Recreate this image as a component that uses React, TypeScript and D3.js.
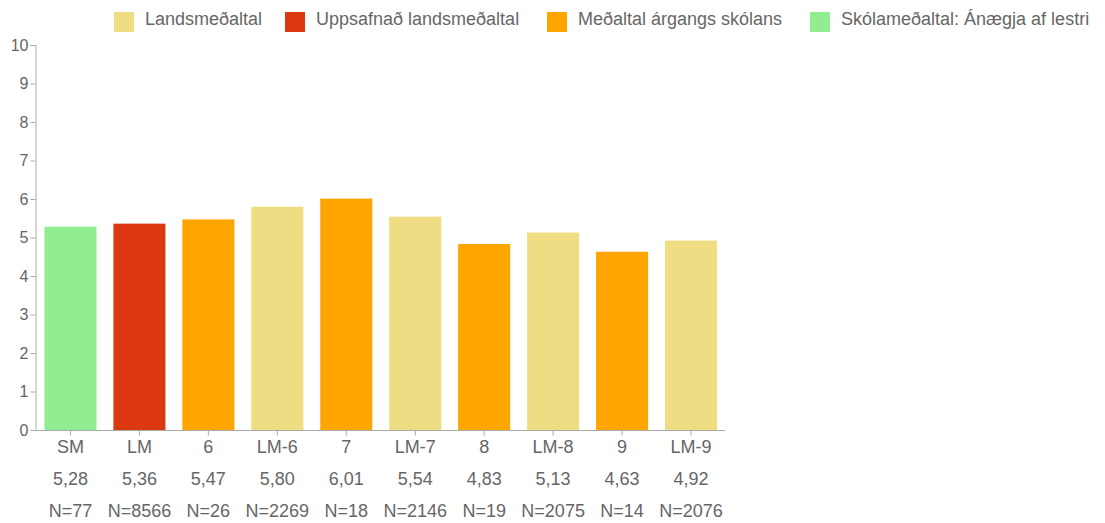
import { useEffect, useRef } from 'react';
import * as d3 from 'd3';

const categories = ['SM', 'LM', '6', 'LM-6', '7', 'LM-7', '8', 'LM-8', '9', 'LM-9'];
const values = [5.28, 5.36, 5.47, 5.80, 6.01, 5.54, 4.83, 5.13, 4.63, 4.92];
const counts = [77, 8566, 26, 2269, 18, 2146, 19, 2075, 14, 2076];
const barSeries = ['school', 'cumulative', 'grade', 'national', 'grade', 'national', 'grade', 'national', 'grade', 'national'];

const legendKeys = ['national', 'cumulative', 'grade', 'school'];
const legendLabels = ['Landsmeðaltal', 'Uppsafnað landsmeðaltal', 'Meðaltal árgangs skólans', 'Skólameðaltal: Ánægja af lestri'];
const yTicks = [0, 1, 2, 3, 4, 5, 6, 7, 8, 9, 10];

const colors: Record<string, string> = {
    national: '#eedd82',
    cumulative: '#dc3912',
    grade: '#ffa500',
    school: '#90ee90',
};

// legend item x positions (layout only)
const legendX = [114, 285, 547, 810];

export default function App() {
    const svgRef = useRef<SVGSVGElement>(null);

    useEffect(() => {
        if (!svgRef.current) return;
        const W = 1105, H = 523;
        const font = '"Liberation Sans", Arial, Helvetica, sans-serif';
        const grey = '#666';
        const axisColor = '#aaa';

        const svg = d3.select(svgRef.current);
        svg.selectAll('*').remove();
        svg.attr('width', W).attr('height', H).style('font-family', font);

        const x = d3.scaleBand<string>()
            .domain(categories)
            .range([36, 725.5])
            .paddingInner(0.245)
            .paddingOuter(0.1225);
        const y = d3.scaleLinear().domain([0, 10]).range([430, 45]);

        // Bars
        svg.append('g')
            .selectAll('rect')
            .data(categories)
            .join('rect')
            .attr('x', d => x(d)!)
            .attr('width', x.bandwidth())
            .attr('y', (_, i) => y(values[i]))
            .attr('height', (_, i) => y(0) - y(values[i]))
            .attr('fill', (_, i) => colors[barSeries[i]]);

        // Y axis
        const yAxis = svg.append('g')
            .attr('transform', 'translate(35.5,0)')
            .call(d3.axisLeft(y).tickValues(yTicks).tickSize(5).tickFormat(d3.format('d')));
        yAxis.selectAll('path, line').attr('stroke', axisColor);
        yAxis.selectAll('text').attr('fill', grey).attr('font-size', 16).attr('font-family', font).attr('x', -7);

        // X axis
        const xAxis = svg.append('g')
            .attr('transform', 'translate(0,430.5)')
            .call(d3.axisBottom(x).tickSizeOuter(0).tickSize(5).tickFormat(() => ''));
        xAxis.select('.domain').attr('d', 'M35.5,0H725');
        xAxis.selectAll('path, line').attr('stroke', axisColor);

        // Category, value and N labels
        const labels = svg.append('g')
            .attr('fill', grey)
            .attr('font-size', 18)
            .attr('text-anchor', 'middle');
        categories.forEach((c, i) => {
            const cx = x(c)! + x.bandwidth() / 2;
            labels.append('text').attr('x', cx).attr('y', 453).text(c);
            labels.append('text').attr('x', cx).attr('y', 485).text(values[i].toFixed(2).replace('.', ','));
            labels.append('text').attr('x', cx).attr('y', 517).text(`N=${counts[i]}`);
        });

        // Legend
        const legend = svg.append('g');
        legendKeys.forEach((k, i) => {
            const g = legend.append('g').attr('transform', `translate(${legendX[i]},12)`);
            g.append('rect').attr('width', 20).attr('height', 20).attr('fill', colors[k]);
            g.append('text')
                .attr('x', 31).attr('y', 13)
                .attr('font-size', 18).attr('fill', grey)
                .text(legendLabels[i]);
        });
    }, []);

    return (
        <div style={{ position: 'absolute', left: 0, top: 0 }}>
            <svg ref={svgRef} style={{ display: 'block' }} />
        </div>
    );
}
